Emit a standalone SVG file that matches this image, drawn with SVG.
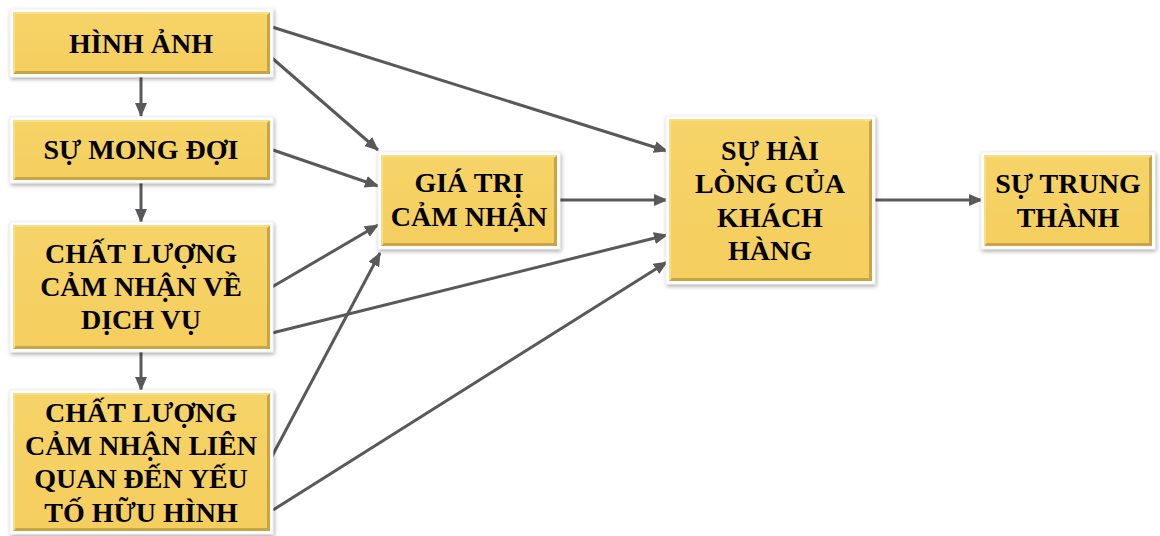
<svg xmlns="http://www.w3.org/2000/svg" width="1160" height="536" viewBox="0 0 1160 536">
<defs>
<filter id="sh" x="-10%" y="-10%" width="120%" height="125%">
<feGaussianBlur in="SourceAlpha" stdDeviation="2"/>
<feOffset dx="1" dy="2" result="b"/>
<feComponentTransfer><feFuncA type="linear" slope="0.35"/></feComponentTransfer>
<feMerge><feMergeNode/><feMergeNode in="SourceGraphic"/></feMerge>
</filter>
<linearGradient id="gold" x1="0" y1="0" x2="0" y2="1">
<stop offset="0" stop-color="#F7D468"/>
<stop offset="1" stop-color="#F4CE5E"/>
</linearGradient>
<marker id="ah" viewBox="0 0 14 12" refX="13" refY="6" markerWidth="14" markerHeight="12" markerUnits="userSpaceOnUse" orient="auto">
<path d="M0,0 L14,6 L0,12 Z" fill="#595959"/>
</marker>
<style>
.outer{fill:#FFFFFF;stroke:#E6E6E6;stroke-width:0.6;filter:url(#sh)}
.gold{fill:url(#gold)}
.dk{fill:#C9A445}
.lt{fill:#F9DE88}
.t{font-family:"Liberation Serif","Times New Roman",serif;font-weight:bold;font-size:28px;fill:#000000;text-anchor:middle}
.c{fill:none;stroke:#595959;stroke-width:3;marker-end:url(#ah)}
</style>
</defs>
<rect width="1160" height="536" fill="#FFFFFF"/>
<g id="connectors">
<line class="c" x1="141" y1="77" x2="141" y2="116"/>
<line class="c" x1="141" y1="183" x2="141" y2="222"/>
<line class="c" x1="141" y1="352" x2="141" y2="390"/>
<line class="c" x1="272" y1="27" x2="667" y2="151"/>
<line class="c" x1="272" y1="58" x2="378" y2="150"/>
<line class="c" x1="273" y1="150" x2="378" y2="186"/>
<line class="c" x1="272" y1="287" x2="378" y2="225"/>
<line class="c" x1="272" y1="333" x2="667" y2="235"/>
<line class="c" x1="270" y1="460" x2="380" y2="253"/>
<line class="c" x1="273" y1="510" x2="667" y2="262"/>
<line class="c" x1="560" y1="200" x2="667" y2="200"/>
<line class="c" x1="875" y1="200" x2="982" y2="200"/>
</g>
<g id="hinh-anh">
<rect class="outer" x="10" y="9" width="263" height="68"/>
<rect class="gold" x="13" y="12" width="257" height="62"/>
<polygon class="dk" points="13,74 270,74 270,12 267,15 267,71 16,71"/>
<polygon class="lt" points="13,12 270,12 268,14 15,14 15,72 13,74"/>
<text class="t" x="141" y="53">HÌNH ẢNH</text>
</g>
<g id="su-mong-doi">
<rect class="outer" x="10" y="117" width="263" height="66"/>
<rect class="gold" x="13" y="120" width="257" height="60"/>
<polygon class="dk" points="13,180 270,180 270,120 267,123 267,177 16,177"/>
<polygon class="lt" points="13,120 270,120 268,122 15,122 15,178 13,180"/>
<text class="t" x="141" y="159">SỰ MONG ĐỢI</text>
</g>
<g id="chat-luong-dich-vu">
<rect class="outer" x="10" y="222" width="263" height="130"/>
<rect class="gold" x="13" y="225" width="257" height="124"/>
<polygon class="dk" points="13,349 270,349 270,225 267,228 267,346 16,346"/>
<polygon class="lt" points="13,225 270,225 268,227 15,227 15,347 13,349"/>
<text class="t" x="141" y="263">CHẤT LƯỢNG</text>
<text class="t" x="141" y="296">CẢM NHẬN VỀ</text>
<text class="t" x="141" y="329">DỊCH VỤ</text>
</g>
<g id="chat-luong-huu-hinh">
<rect class="outer" x="10" y="390" width="263" height="144"/>
<rect class="gold" x="13" y="393" width="257" height="138"/>
<polygon class="dk" points="13,531 270,531 270,393 267,396 267,528 16,528"/>
<polygon class="lt" points="13,393 270,393 268,395 15,395 15,529 13,531"/>
<text class="t" x="141" y="422">CHẤT LƯỢNG</text>
<text class="t" x="141" y="455">CẢM NHẬN LIÊN</text>
<text class="t" x="141" y="488">QUAN ĐẾN YẾU</text>
<text class="t" x="141" y="522">TỐ HỮU HÌNH</text>
</g>
<g id="gia-tri-cam-nhan">
<rect class="outer" x="378" y="152" width="182" height="97"/>
<rect class="gold" x="381" y="155" width="176" height="91"/>
<polygon class="dk" points="381,246 557,246 557,155 554,158 554,243 384,243"/>
<polygon class="lt" points="381,155 557,155 555,157 383,157 383,244 381,246"/>
<text class="t" x="469" y="192">GIÁ TRỊ</text>
<text class="t" x="469" y="226">CẢM NHẬN</text>
</g>
<g id="su-hai-long">
<rect class="outer" x="666" y="116" width="209" height="168"/>
<rect class="gold" x="669" y="119" width="203" height="162"/>
<polygon class="dk" points="669,281 872,281 872,119 869,122 869,278 672,278"/>
<polygon class="lt" points="669,119 872,119 870,121 671,121 671,279 669,281"/>
<text class="t" x="770" y="160">SỰ HÀI</text>
<text class="t" x="770" y="193">LÒNG CỦA</text>
<text class="t" x="770" y="227">KHÁCH</text>
<text class="t" x="770" y="260">HÀNG</text>
</g>
<g id="su-trung-thanh">
<rect class="outer" x="981" y="152" width="174" height="97"/>
<rect class="gold" x="984" y="155" width="168" height="91"/>
<polygon class="dk" points="984,246 1152,246 1152,155 1149,158 1149,243 987,243"/>
<polygon class="lt" points="984,155 1152,155 1150,157 986,157 986,244 984,246"/>
<text class="t" x="1068" y="193">SỰ TRUNG</text>
<text class="t" x="1068" y="227">THÀNH</text>
</g>
</svg>
